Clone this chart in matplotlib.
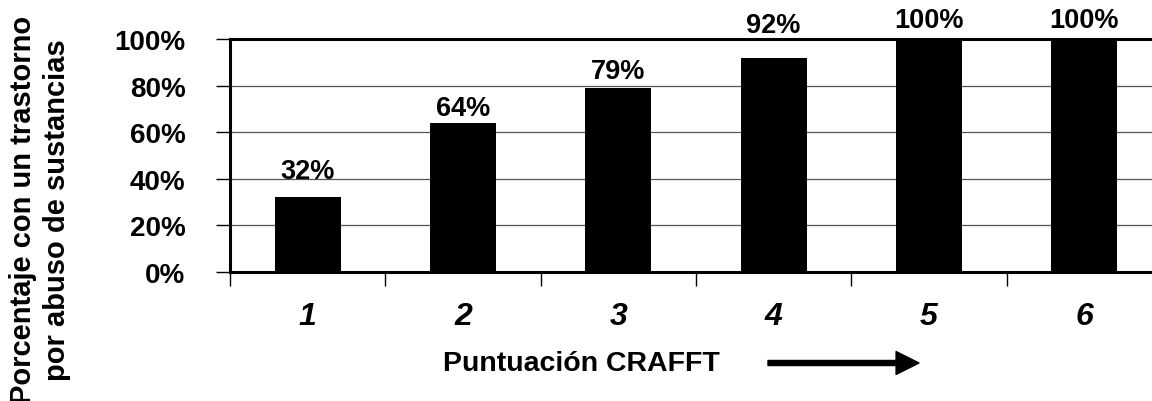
import numpy as np
import matplotlib.pyplot as plt
from matplotlib.ticker import FixedLocator, NullFormatter

# ── data ────────────────────────────────────────────────────────────────
scores = ["1", "2", "3", "4", "5", "6"]
percent = [32, 64, 79, 92, 100, 100]

# gap (points) between bar top and its value label, as in the original
label_gap = [10, 1, 3, 14, 4, 4]

plt.rcParams.update({
    'font.family': ['Liberation Sans', 'DejaVu Sans'],
    'font.weight': 'bold',
})

W, H = 1152, 402
fig = plt.figure(figsize=(W / 100, H / 100), dpi=100)
ax = fig.add_axes([230 / W, 1 - 273 / H, (1162 - 230) / W, (273 - 40) / H])

x = np.arange(len(scores))
ax.bar(x, percent, width=0.425, color='black', linewidth=0, zorder=3)

for xi, p, g in zip(x, percent, label_gap):
    ax.annotate(f'{p}%', xy=(xi, p), xytext=(0, g), textcoords='offset points',
                ha='center', va='bottom', fontsize=19.5, fontweight='bold',
                annotation_clip=False)

# ── axes ────────────────────────────────────────────────────────────────
ax.set_xlim(-0.5, len(scores) - 0.5)
ax.set_ylim(0, 100)
ax.set_yticks(np.arange(0, 101, 20))
ax.set_yticklabels([f'{v}%' for v in range(0, 101, 20)])
ax.tick_params(axis='y', length=10, width=1, pad=22, labelsize=20)
for lab in ax.get_yticklabels():
    lab.set_fontweight('bold')
ax.yaxis.grid(True, color='#555555', lw=0.9, zorder=0)

ax.xaxis.set_major_locator(FixedLocator(np.arange(-0.5, len(scores), 1.0)))
ax.xaxis.set_major_formatter(NullFormatter())
ax.xaxis.set_minor_locator(FixedLocator(x))
ax.set_xticklabels(scores, minor=True)
ax.tick_params(axis='x', which='major', length=10, width=1)
ax.tick_params(axis='x', which='minor', length=0, pad=21, labelsize=23)
for lab in ax.get_xticklabels(minor=True):
    lab.set_fontweight('bold')
    lab.set_fontstyle('italic')

for side in ['left', 'bottom', 'top']:
    ax.spines[side].set_linewidth(2.2)
ax.spines['right'].set_visible(False)

# ── labels ──────────────────────────────────────────────────────────────
fig.text(40 / W, 1 - 210 / H, 'Porcentaje con un trastorno\npor abuso de sustancias',
         rotation=90, ha='center', va='center', multialignment='center',
         fontsize=21, fontweight='bold', linespacing=1.25)
fig.text(581 / W, 1 - 364 / H, 'Puntuación CRAFFT', ha='center', va='center',
         fontsize=20.5, fontweight='bold')

ax.annotate('', xy=(919 / W, 1 - 364 / H), xytext=(768 / W, 1 - 364 / H),
            xycoords='figure fraction', textcoords='figure fraction',
            arrowprops=dict(arrowstyle='simple,head_length=0.5,head_width=0.5,tail_width=0.11',
                            mutation_scale=33, color='black', shrinkA=0, shrinkB=0))

fig.savefig('out.png', dpi=100)
